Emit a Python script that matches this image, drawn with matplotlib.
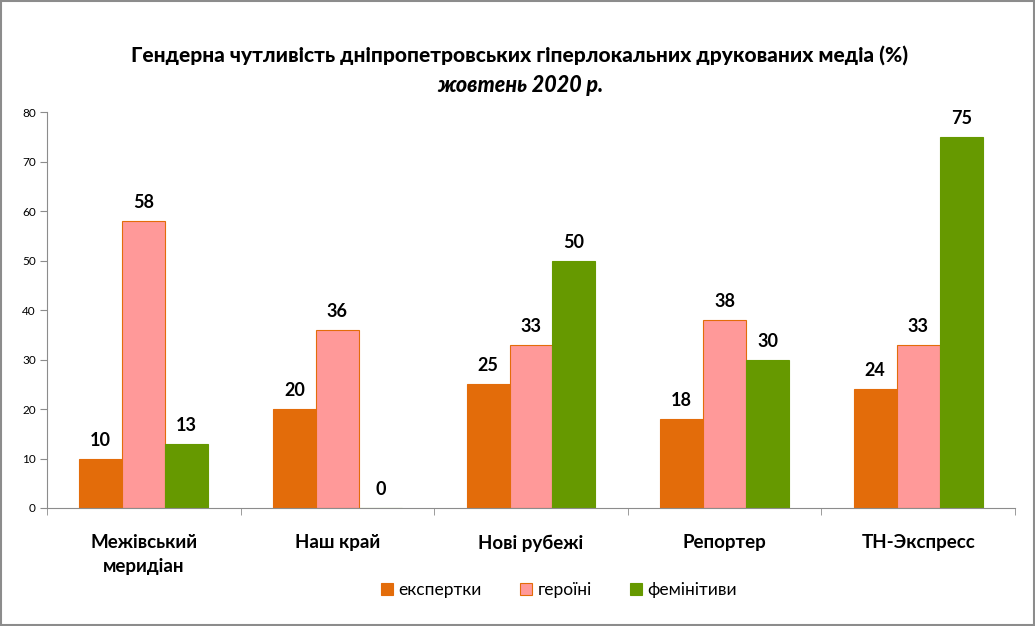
import matplotlib.pyplot as plt
import numpy as np
from matplotlib.patches import Rectangle

# data
categories = ['Межівський\nмеридіан', 'Наш край', 'Нові рубежі', 'Репортер', 'ТН-Экспресс']
series_names = ['експертки', 'героїні', 'фемінітиви']
experts = [10, 20, 25, 18, 24]
heroines = [58, 36, 33, 38, 33]
feminitives = [13, 0, 50, 30, 75]

colors = ['#E36C0A', '#FF9999', '#669900']
edges = ['#E36C0A', '#E36C0A', '#669900']

plt.rcParams['font.family'] = ['Lato', 'DejaVu Sans']

fig = plt.figure(figsize=(10.35, 6.26), dpi=100)
fig.patches.append(Rectangle((0.001, 0.001), 0.998, 0.997, transform=fig.transFigure,
                             fill=False, edgecolor='#8c8c8c', linewidth=1.5))
ax = fig.add_axes([0.0454, 0.1885, 0.9353, 0.6325])

x = np.arange(len(categories))
w = 0.222
for i, vals in enumerate([experts, heroines, feminitives]):
    bars = ax.bar(x + (i - 1) * w, vals, w, color=colors[i], edgecolor=edges[i],
                  linewidth=0.8, label=series_names[i])
    for b, v in zip(bars, vals):
        ax.text(b.get_x() + b.get_width() / 2, v + 2.0, str(v), ha='center', va='bottom',
                fontsize=13, fontweight='bold')

ax.set_xlim(-0.5, len(categories) - 0.5)
ax.set_ylim(0, 80)
ax.set_yticks(range(0, 81, 10))
ax.set_xticks(x)
ax.set_xticklabels(categories, fontsize=13.5, fontweight='bold', linespacing=1.45)
ax.set_xticks(np.arange(-0.5, len(categories), 1), minor=True)
ax.tick_params(axis='x', which='major', length=0, pad=19)
ax.tick_params(axis='x', which='minor', length=5, color='#8c8c8c')
ax.tick_params(axis='y', labelsize=8.5, length=5, color='#8c8c8c', pad=3)
for s in ['top', 'right']:
    ax.spines[s].set_visible(False)
for s in ['left', 'bottom']:
    ax.spines[s].set_color('#8c8c8c')

fig.text(0.502, 0.912, 'Гендерна чутливість дніпропетровських гіперлокальних друкованих медіа (%)',
         ha='center', va='center', fontsize=15, fontweight='black')
fig.text(0.503, 0.864, 'жовтень 2020 р.', ha='center', va='center', fontsize=15.5,
         fontweight='black', style='italic')

handles, labels = ax.get_legend_handles_labels()
fig.legend(handles, labels, loc='center', bbox_to_anchor=(0.54, 0.057), ncol=3,
           frameon=False, fontsize=12.5, handlelength=0.7, handleheight=0.7,
           handletextpad=0.3, columnspacing=2.2)

fig.savefig('out.png', dpi=100)
